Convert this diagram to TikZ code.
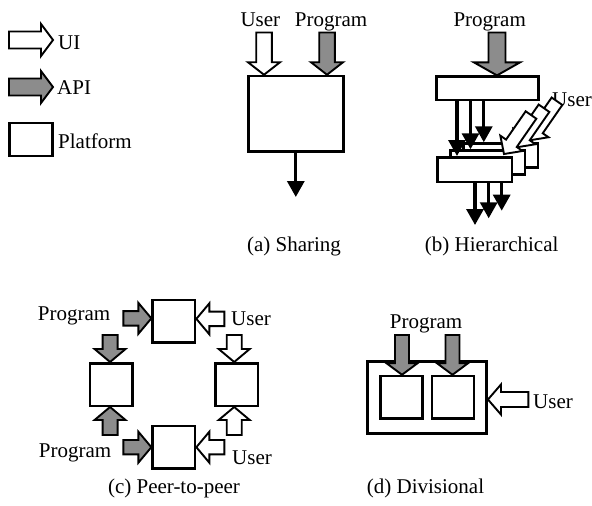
\documentclass[tikz,border=0pt]{standalone}
\usepackage{fontspec}
\setmainfont{Liberation Serif}
\usetikzlibrary{calc,arrows.meta}

\definecolor{apigray}{RGB}{140,140,140}

% Block arrow as a closed outline: style, tail, tip, half shaft, half head, head length
\newcommand{\blkarrow}[6]{%
  \coordinate (blk-h) at ($(#3)!#6!(#2)$);
  \draw[#1] ($(#2)!#4!90:(#3)$) -- ($(blk-h)!#4!-90:(#2)$) -- ($(blk-h)!#5!-90:(#2)$)
    -- (#3) -- ($(blk-h)!#5!90:(#2)$) -- ($(blk-h)!#4!90:(#2)$) -- ($(#2)!#4!-90:(#3)$) -- cycle;
}

\tikzset{
  box/.style={draw, line width=2.5pt, fill=white, inner sep=0pt},
  uiarr/.style={draw, line width=1.9pt, fill=white, line join=miter},
  apiarr/.style={draw, line width=1.9pt, fill=apigray, line join=miter},
  flow/.style={line width=3.2pt, -{Triangle[length=16pt,width=17pt]}},
  lbl/.style={inner sep=0pt, anchor=base},
}

\begin{document}
\begin{tikzpicture}[x=1pt, y=-1pt, font=\fontsize{21}{25}\selectfont]
\useasboundingbox (0,0) rectangle (592,506);

% ---------- legend ----------
\coordinate (lg-ui-t) at (9,40);  \coordinate (lg-ui-h) at (53,40);
\blkarrow{uiarr}{lg-ui-t}{lg-ui-h}{8.5pt}{16pt}{12pt}
\node[lbl, anchor=base west] (lg-ui) at (58,49) {UI};
\coordinate (lg-api-t) at (9,87); \coordinate (lg-api-h) at (53,87);
\blkarrow{apiarr}{lg-api-t}{lg-api-h}{8.5pt}{16pt}{12pt}
\node[lbl, anchor=base west] (lg-api) at (57,94) {API};
\node[box, minimum width=43.4pt, minimum height=33pt] (lg-box) at (31,139.5) {};
\node[lbl, anchor=base west] (lg-plat) at (58,148) {Platform};

% ---------- (a) sharing ----------
\node[box, minimum width=95pt, minimum height=75.7pt] (a-box) at (295.8,113.85) {};
\node[lbl] (a-user) at (260.4,26.5) {User};
\node[lbl] (a-prog) at (331,26.5) {Program};
\coordinate (a-user-t) at (264,32.5);
\coordinate (a-user-h) at (a-user-t |- a-box.north);
\blkarrow{uiarr}{a-user-t}{a-user-h}{7.8pt}{16pt}{12.5pt}
\coordinate (a-prog-t) at (327,32.5);
\coordinate (a-prog-h) at (a-prog-t |- a-box.north);
\blkarrow{apiarr}{a-prog-t}{a-prog-h}{7.8pt}{16pt}{12.5pt}
\coordinate (a-out) at (295.8,197);
\draw[flow] (a-box.south) -- (a-out);
\node[lbl] (a-cap) at (294,251) {(a) Sharing};

% ---------- (b) hierarchical ----------
\node[box, minimum width=101.6pt, minimum height=23.3pt] (b-top) at (487.5,88.3) {};
\node[lbl] (b-prog) at (489.7,26) {Program};
\coordinate (b-prog-t) at (497,32.5);
\coordinate (b-prog-h) at (b-prog-t |- b-top.north);
\blkarrow{apiarr}{b-prog-t}{b-prog-h}{8.5pt}{23pt}{13pt}
\node[lbl, anchor=base west] (b-user) at (552,106.5) {User};

% back platform
\node[box, minimum width=74.5pt, minimum height=24pt] (b-p3) at (500.5,155.5) {};
\coordinate (b-u3-h) at ($(b-p3.north east)+(-9,-2)$);
\coordinate (b-u3-t) at ($(b-u3-h)+(27,-39)$);
\blkarrow{uiarr}{b-u3-t}{b-u3-h}{6.5pt}{13.5pt}{13pt}
\coordinate (b-d3) at (483.8,100);
\draw[flow] (b-d3 |- b-top.south) -- (b-d3 |- b-p3.north);
% middle platform
\node[box, minimum width=74.5pt, minimum height=24pt] (b-p2) at (487.5,162.5) {};
\coordinate (b-u2-h) at ($(b-p2.north east)+(-9,-2)$);
\coordinate (b-u2-t) at ($(b-u2-h)+(27,-39)$);
\blkarrow{uiarr}{b-u2-t}{b-u2-h}{6.5pt}{13.5pt}{13pt}
\coordinate (b-d2) at (470.5,100);
\draw[flow] (b-d2 |- b-top.south) -- (b-d2 |- b-p2.north);
% front platform
\node[box, minimum width=74.5pt, minimum height=24.5pt] (b-p1) at (474.5,169.5) {};
\coordinate (b-u1-h) at ($(b-p1.north east)+(-9,-2)$);
\coordinate (b-u1-t) at ($(b-u1-h)+(27,-39)$);
\blkarrow{uiarr}{b-u1-t}{b-u1-h}{6.5pt}{13.5pt}{13pt}
\coordinate (b-d1) at (457,100);
\draw[flow] (b-d1 |- b-top.south) -- (b-d1 |- b-p1.north);
% outputs of the front platform
\coordinate (b-o1) at (475,225);
\coordinate (b-o2) at (488.7,218.3);
\coordinate (b-o3) at (501.7,210.7);
\draw[flow] (b-o1 |- b-p1.south) -- (b-o1);
\draw[flow] (b-o2 |- b-p1.south) -- (b-o2);
\draw[flow] (b-o3 |- b-p1.south) -- (b-o3);
\node[lbl] (b-cap) at (491.7,251) {(b) Hierarchical};

% ---------- (c) peer-to-peer ----------
\node[box, minimum width=42.5pt, minimum height=42.5pt] (c-top) at (173.85,321.35) {};
\node[box, minimum width=42.5pt, minimum height=42.5pt] (c-left) at (111.35,384.5) {};
\node[box, minimum width=42.5pt, minimum height=42.5pt] (c-right) at (236.7,384.5) {};
\node[box, minimum width=42.5pt, minimum height=42.5pt] (c-bot) at (173.85,447.2) {};
\node[lbl] (c-prog1) at (74,320.6) {Program};
\node[lbl] (c-user1) at (251,325.6) {User};
\node[lbl] (c-prog2) at (75,457) {Program};
\node[lbl] (c-user2) at (252,464) {User};

\coordinate (c-a1-h) at ($(c-top.west)+(0,-3)$);
\coordinate (c-a1-t) at ($(c-a1-h)+(-28,0)$);
\blkarrow{apiarr}{c-a1-t}{c-a1-h}{7.2pt}{15.5pt}{13pt}
\coordinate (c-u1-h) at ($(c-top.east)+(0,-2.5)$);
\coordinate (c-u1-t) at ($(c-u1-h)+(28,0)$);
\blkarrow{uiarr}{c-u1-t}{c-u1-h}{7.2pt}{15.5pt}{13pt}
\coordinate (c-a2-h) at ($(c-left.north)+(-1.3,0)$);
\coordinate (c-a2-t) at ($(c-a2-h)+(0,-27)$);
\blkarrow{apiarr}{c-a2-t}{c-a2-h}{7.5pt}{15.5pt}{13pt}
\coordinate (c-a3-h) at ($(c-left.south)+(-1.3,0)$);
\coordinate (c-a3-t) at ($(c-a3-h)+(0,28)$);
\blkarrow{apiarr}{c-a3-t}{c-a3-h}{7.5pt}{15.5pt}{13pt}
\coordinate (c-u2-h) at ($(c-right.north)+(-2.5,0)$);
\coordinate (c-u2-t) at ($(c-u2-h)+(0,-27)$);
\blkarrow{uiarr}{c-u2-t}{c-u2-h}{7.5pt}{15.5pt}{13pt}
\coordinate (c-u3-h) at ($(c-right.south)+(-2.5,0)$);
\coordinate (c-u3-t) at ($(c-u3-h)+(0,28)$);
\blkarrow{uiarr}{c-u3-t}{c-u3-h}{7.5pt}{15.5pt}{13pt}
\coordinate (c-a4-h) at (c-bot.west);
\coordinate (c-a4-t) at ($(c-a4-h)+(-28,0)$);
\blkarrow{apiarr}{c-a4-t}{c-a4-h}{7.2pt}{15.5pt}{13pt}
\coordinate (c-u4-h) at (c-bot.east);
\coordinate (c-u4-t) at ($(c-u4-h)+(28,0)$);
\blkarrow{uiarr}{c-u4-t}{c-u4-h}{7.2pt}{15.5pt}{13pt}
\node[lbl] (c-cap) at (174,493) {(c) Peer-to-peer};

% ---------- (d) divisional ----------
\node[box, minimum width=119pt, minimum height=71.6pt] (d-out) at (427.2,397.5) {};
\node[box, minimum width=42pt, minimum height=42.3pt] (d-in1) at (401.7,397.15) {};
\node[box, minimum width=42pt, minimum height=42.3pt] (d-in2) at (452.85,397.15) {};
\node[lbl] (d-prog) at (426,328) {Program};
\coordinate (d-a1-t) at (402,335);
\coordinate (d-a1-h) at (d-a1-t |- d-in1.north);
\blkarrow{apiarr}{d-a1-t}{d-a1-h}{7pt}{15.5pt}{11.5pt}
\coordinate (d-a2-t) at (452.5,335);
\coordinate (d-a2-h) at (d-a2-t |- d-in2.north);
\blkarrow{apiarr}{d-a2-t}{d-a2-h}{7pt}{15.5pt}{11.5pt}
\coordinate (d-u-t) at (528.3,399.5);
\coordinate (d-u-h) at (d-out.east |- d-u-t);
\blkarrow{uiarr}{d-u-t}{d-u-h}{7.5pt}{15pt}{13pt}
\node[lbl, anchor=base west] (d-user) at (533,408.5) {User};
\node[lbl] (d-cap) at (425.5,493) {(d) Divisional};
\end{tikzpicture}
\end{document}
